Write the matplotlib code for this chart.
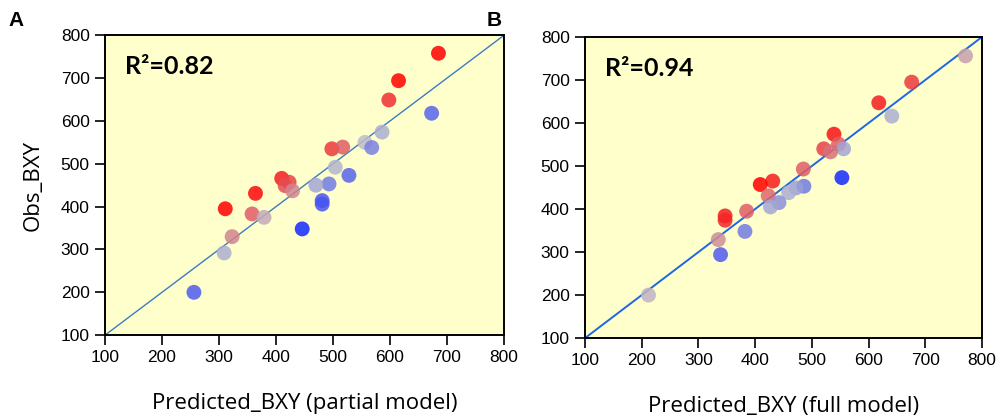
import matplotlib
matplotlib.use("Agg")
import matplotlib.pyplot as plt
import numpy as np
from matplotlib.colors import LinearSegmentedColormap

# panel A: partial model
pred_a = [685, 615, 598, 673, 586, 556, 568, 498, 517, 504, 528, 493, 470, 410,
          423, 416, 429, 364, 311, 358, 379, 481, 481, 446, 323, 309, 256]
obs_a = [758, 694, 649, 618, 574, 550, 538, 535, 539, 492, 473, 453, 450, 466,
         457, 449, 437, 431, 395, 383, 375, 414, 406, 348, 330, 292, 200]
col_a = [1.0, 1.0, 0.75, -0.6, -0.1, 0.0, -0.4, 0.7, 0.5, -0.05, -0.6, -0.45, -0.15, 0.85,
         0.65, 0.6, 0.3, 0.95, 1.0, 0.5, 0.1, -0.7, -0.7, -1.0, 0.3, -0.1, -0.65]

# panel B: full model
pred_b = [771, 676, 618, 641, 539, 521, 547, 556, 533, 485, 553, 431, 409, 486,
          472, 459, 423, 442, 427, 385, 347, 347, 382, 335, 339, 212]
obs_b = [756, 695, 647, 616, 574, 540, 551, 540, 533, 493, 473, 465, 457, 453,
         449, 438, 431, 415, 405, 395, 384, 374, 348, 329, 294, 200]
col_b = [0.15, 0.7, 0.85, -0.1, 0.9, 0.65, 0.5, -0.15, 0.4, 0.5, -1.0, 0.85, 1.0, -0.45,
         -0.2, -0.1, 0.45, -0.3, -0.15, 0.5, 0.85, 0.8, -0.45, 0.25, -0.65, 0.05]

ticks = [100, 200, 300, 400, 500, 600, 700, 800]

cmap = LinearSegmentedColormap.from_list("bgr", [(0.08, 0.16, 1.0), (0.74, 0.74, 0.80), (1.0, 0.0, 0.0)])

fig = plt.figure(figsize=(10, 4.2), dpi=100)
ax1 = fig.add_axes([0.105, 0.202, 0.399, 0.714])
ax2 = fig.add_axes([0.585, 0.195, 0.397, 0.717])

panels = [(ax1, pred_a, obs_a, col_a, "R²=0.82", "Predicted_BXY (partial model)", "#3a7dbf", 1.0, "A", 0.008),
          (ax2, pred_b, obs_b, col_b, "R²=0.94", "Predicted_BXY (full model)", "#1f66e5", 1.4, "B", 0.487)]

for ax, px, oy, cc, r2, xl, lc, lw, letter, lx in panels:
    ax.set_facecolor("#ffffcc")
    ax.plot([100, 800], [100, 800], color=lc, lw=lw, zorder=2)
    ax.scatter(px, oy, c=cc, cmap=cmap, vmin=-1, vmax=1, s=115, alpha=0.85, edgecolors="none", zorder=3)
    ax.set_xlim(100, 800)
    ax.set_ylim(100, 800)
    ax.set_xticks(ticks)
    ax.set_yticks(ticks)
    ax.tick_params(direction="out", length=7, width=1.2, labelsize=12.5, pad=4)
    for lab in ax.get_xticklabels() + ax.get_yticklabels():
        lab.set_family("Liberation Sans")
    for sp in ax.spines.values():
        sp.set_linewidth(1.4)
    ax.set_xlabel(xl, fontsize=16, family="Open Sans", labelpad=20)
    ax.text(0.05, 0.895, r2, transform=ax.transAxes, fontsize=18, fontweight="bold",
            family="Lato", va="center", ha="left")
    fig.text(lx, 0.975, letter, fontsize=15, fontweight="bold", family="Liberation Sans", va="top")

ax1.set_ylabel("Obs_BXY", fontsize=16, family="Open Sans", labelpad=12)

fig.savefig("out.png", dpi=100)
